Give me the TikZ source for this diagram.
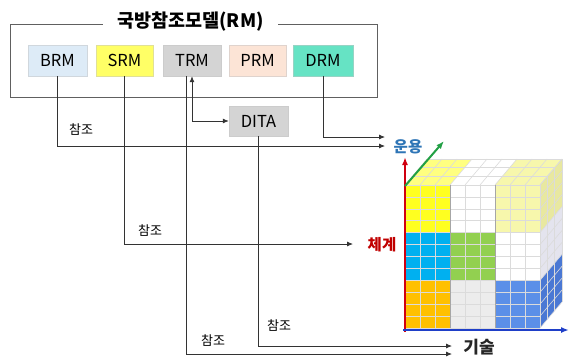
\documentclass[tikz,border=0pt]{standalone}
\usepackage{fontspec}
\setmainfont{Noto Sans CJK KR}
\usetikzlibrary{arrows.meta}
\definecolor{cBRM}{HTML}{DDEBF7}
\definecolor{cSRM}{HTML}{FFFF66}
\definecolor{cTRM}{HTML}{D4D4D4}
\definecolor{cPRM}{HTML}{FCE4D6}
\definecolor{cDRM}{HTML}{66E3C4}
\definecolor{lineC}{HTML}{333333}
\definecolor{frameC}{HTML}{606060}
\definecolor{axisR}{HTML}{D00010}
\definecolor{axisB}{HTML}{1F3FC8}
\definecolor{axisG}{HTML}{22A045}
\definecolor{txtBlue}{HTML}{2E75B6}
\definecolor{txtRed}{HTML}{C00000}
\definecolor{fYellow}{HTML}{FFFF20}
\definecolor{fLYellow}{HTML}{F7F7AC}
\definecolor{fCyan}{HTML}{00B0F0}
\definecolor{fGreen}{HTML}{92D050}
\definecolor{fOrange}{HTML}{FFC000}
\definecolor{fLGray}{HTML}{ECECEC}
\definecolor{fBlue}{HTML}{5B8FE8}
\definecolor{sYellow}{HTML}{E8E8A0}
\definecolor{sWhite}{HTML}{E4E4EE}
\definecolor{sBlue}{HTML}{4A78D4}
\definecolor{tYellow}{HTML}{FFFF80}
\begin{document}
\begin{tikzpicture}[x=1pt,y=-1pt,
  refbox/.style={draw=#1!80!black!60, fill=#1, minimum height=31pt, inner sep=0pt,
    font=\fontsize{16.5}{18}\selectfont},
  conn/.style={draw=lineC, line width=0.8pt, -{Latex[length=6pt,width=5pt]}},
  lbl/.style={font=\fontsize{13}{14}\selectfont, inner sep=0pt},
  axislbl/.style={font=\bfseries\fontsize{15.5}{17}\selectfont, inner sep=0pt},
  gridln/.style={draw=white!72!gray, line width=0.6pt}]
\useasboundingbox (0,0) rectangle (569,359);

% reference-model frame and its title
\node[draw=frameC, line width=0.9pt, minimum width=367pt, minimum height=73pt, inner sep=0pt] (rm) at (193.5,61) {};
\node[fill=white, inner xsep=14pt, inner ysep=1pt, font=\bfseries\fontsize{18.5}{20}\selectfont] (title) at (190.5,22) {국방참조모델(RM)};

% sub-models
\node[refbox=cBRM, minimum width=59pt] (brm) at (57.5,60.5) {BRM};
\node[refbox=cSRM, minimum width=57pt] (srm) at (124.5,60.5) {SRM};
\node[refbox=cTRM, minimum width=58pt] (trm) at (192,60.5) {TRM};
\node[refbox=cPRM, minimum width=57pt] (prm) at (257.5,60.5) {PRM};
\node[refbox=cDRM, minimum width=60pt] (drm) at (323,60.5) {DRM};
\node[refbox=cTRM, minimum width=59pt, minimum height=30pt] (dita) at (258.5,121) {DITA};

% cube: front face blocks
\foreach \i/\j/\c in {0/0/fYellow,1/0/white,2/0/fLYellow,
                      0/1/fCyan,1/1/fGreen,2/1/white,
                      0/2/fOrange,1/2/fLGray,2/2/fBlue}
  \fill[\c] ({405+45*\i},{185+143/3*\j}) rectangle ({450+45*\i},{185+143/3*(\j+1)});
% cube: top face blocks
\foreach \i/\c in {0/tYellow,1/white,2/fLYellow}
  \fill[\c] ({405+45*\i},185) -- ({450+45*\i},185) -- ({472+45*\i},159) -- ({427+45*\i},159) -- cycle;
% cube: right face blocks
\foreach \j/\c in {0/sYellow,1/sWhite,2/sBlue}
  \fill[\c] (540,{185+143/3*\j}) -- (562,{159+143/3*\j}) -- (562,{159+143/3*(\j+1)}) -- (540,{185+143/3*(\j+1)}) -- cycle;
% cube grid
\foreach \k in {0,...,9}
  \draw[gridln] ({405+15*\k},185) -- ({405+15*\k},328);
\foreach \m in {0,...,12}
  \draw[gridln] (405,{185+143/12*\m}) -- (540,{185+143/12*\m});
\foreach \k in {0,...,9}
  \draw[gridln] ({405+15*\k},185) -- ({427+15*\k},159);
\foreach \t in {1,2,3}
  \draw[gridln] ({405+22/3*\t},{185-26/3*\t}) -- ({540+22/3*\t},{185-26/3*\t});
\foreach \m in {0,...,12}
  \draw[gridln] (540,{185+143/12*\m}) -- (562,{159+143/12*\m});
\foreach \t in {1,2,3}
  \draw[gridln] ({540+22/3*\t},{185-26/3*\t}) -- ({540+22/3*\t},{328-26/3*\t});
\draw[draw=gray!70, line width=0.7pt] (450,185) -- (450,328) (495,185) -- (495,328);

% cube axes
\draw[axisR, line width=2pt, -{Latex[length=8pt,width=6pt]}] (405,332) -- (405,157);
\draw[axisB, line width=2pt, -{Latex[length=8pt,width=6pt]}] (403,330) -- (569,330);
\draw[axisG, line width=2pt, -{Latex[length=8pt,width=6pt]}] (405,186) -- (444,141);

% axis labels
\node[axislbl, text=txtBlue] (unyong) at (408,147) {운용};
\node[axislbl, text=txtRed] (chegye) at (382,245) {체계};
\node[axislbl, font=\bfseries\fontsize{17}{18}\selectfont, text=black!85] (gisul) at (479,347) {기술};

% arrow end points
\coordinate (tipU1) at (385,137);
\coordinate (tipU2) at (385,146);
\coordinate (tipS) at (353,244);
\coordinate (tipT1) at (452,346);
\coordinate (tipT2) at (452,354);

% reference connectors
\draw[conn] (drm.south) |- (tipU1);
\draw[conn] (brm.south) |- (tipU2);
\draw[conn] (srm.south) |- (tipS);
\draw[conn] (dita.south) |- (tipT1);
\draw[conn] ([xshift=-6pt]trm.south) |- (tipT2);
\draw[conn, {Latex[length=6pt,width=5pt]}-{Latex[length=6pt,width=5pt]}] (trm.south) |- (dita.west);

% connector labels
\node[lbl] (l1) at (81,130) {참조};
\node[lbl] (l2) at (150,231) {참조};
\node[lbl] (l3) at (213,341) {참조};
\node[lbl] (l4) at (279,326) {참조};
\end{tikzpicture}
\end{document}
